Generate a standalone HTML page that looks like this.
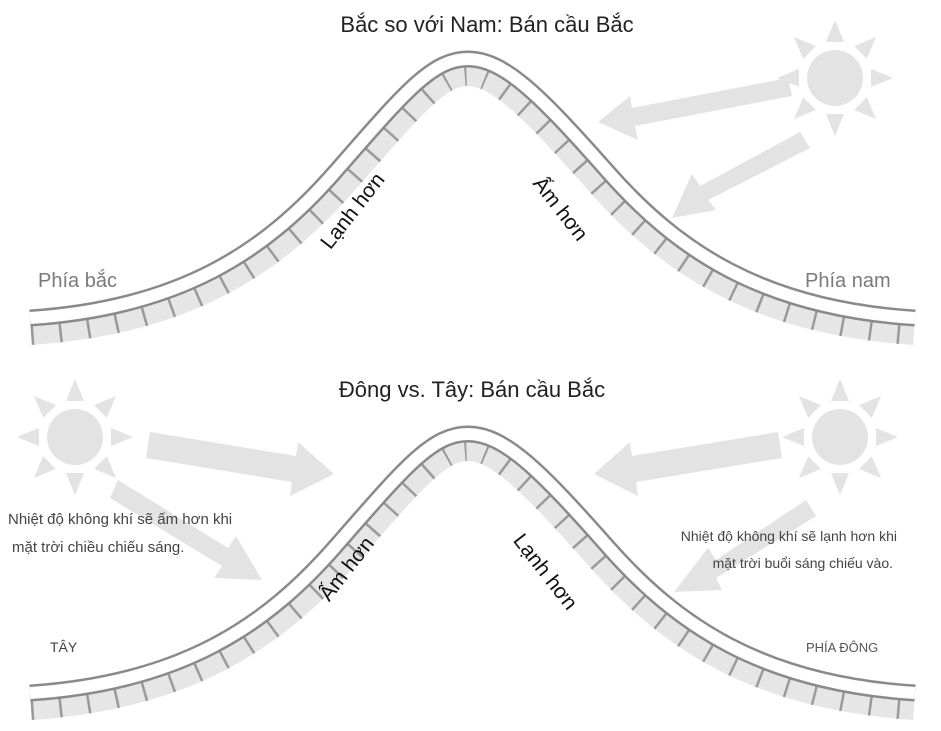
<!DOCTYPE html>
<html><head><meta charset="utf-8"><style>
body{margin:0;background:#fff;}
svg{display:block;}
text{font-family:"Liberation Sans","Noto Sans CJK SC",sans-serif;}
</style></head><body>
<svg width="941" height="731" viewBox="0 0 941 731" xmlns="http://www.w3.org/2000/svg">
<defs>
<path id="m" d="M30,318 C180,308 265,252 335,172 S432,59 468,59 S540,95 608,172 S760,308 915,318"/>
<path id="cover" d="M30,318 C180,308 265,252 335,172 S432,59 468,59 S540,95 608,172 S760,308 915,318 L960,318 L960,0 L0,0 L0,318 Z"/>
<g id="sun" fill="#e3e3e3">
  <circle r="28"/>
  <g id="ray"><polygon points="-9,-36 9,-36 0,-58"/></g>
  <use href="#ray" transform="rotate(45)"/><use href="#ray" transform="rotate(90)"/>
  <use href="#ray" transform="rotate(135)"/><use href="#ray" transform="rotate(180)"/>
  <use href="#ray" transform="rotate(225)"/><use href="#ray" transform="rotate(270)"/>
  <use href="#ray" transform="rotate(315)"/>
</g>
</defs>

<!-- top diagram -->
<use href="#m" fill="none" stroke="#e6e6e6" stroke-width="54"/>
<use href="#m" fill="none" stroke="#9a9a9a" stroke-width="54" stroke-dasharray="2.5 25"/>
<use href="#cover" fill="#fff"/>
<use href="#m" fill="none" stroke="#8a8a8a" stroke-width="17"/>
<use href="#m" fill="none" stroke="#fff" stroke-width="12"/>

<!-- bottom diagram -->
<g transform="translate(0,375)">
  <use href="#m" fill="none" stroke="#e6e6e6" stroke-width="54"/>
  <use href="#m" fill="none" stroke="#9a9a9a" stroke-width="54" stroke-dasharray="2.5 25"/>
  <path d="M30,318 C180,308 265,252 335,172 S432,59 468,59 S540,95 608,172 S760,308 915,318 L960,318 L960,-20 L0,-20 L0,318 Z" fill="#fff"/>
  <use href="#m" fill="none" stroke="#8a8a8a" stroke-width="17"/>
  <use href="#m" fill="none" stroke="#fff" stroke-width="12"/>
</g>

<use href="#sun" x="835" y="78"/>
<use href="#sun" x="75" y="437"/>
<use href="#sun" x="840" y="437"/>
<g fill="#e3e3e3">
<polygon points="788,78 632,108 630,96 598,122 638,140 635,126 792,96"/>
<polygon points="800,132 700,186 692,174 672,218 716,210 708,200 810,148"/>
<polygon points="150,432 296,456 298,442 334,474 290,496 292,482 146,458"/>
<polygon points="118,480 228,548 236,536 262,580 214,578 222,566 110,498"/>
<polygon points="778,432 632,456 630,442 594,474 638,496 636,482 782,458"/>
<polygon points="806,500 716,560 708,548 674,592 722,590 716,578 816,516"/>
</g>
<text x="487" y="32" text-anchor="middle" font-size="22" fill="#222">Bắc so với Nam: Bán cầu Bắc</text>
<text x="38" y="287" font-size="20" fill="#7a7a7a">Phía bắc</text>
<text x="805" y="287" font-size="20" fill="#7a7a7a">Phía nam</text>
<text transform="translate(358,215) rotate(-52)" text-anchor="middle" font-size="21" fill="#111">Lạnh hơn</text>
<text transform="translate(555,213) rotate(52)" text-anchor="middle" font-size="21" fill="#111">Ấm hơn</text>

<text x="472" y="397" text-anchor="middle" font-size="22" fill="#222">Đông vs. Tây: Bán cầu Bắc</text>
<text x="8" y="524" font-size="15" fill="#444">Nhiệt độ không khí sẽ ấm hơn khi</text>
<text x="12" y="552" font-size="15" fill="#444">mặt trời chiều chiếu sáng.</text>
<text x="897" y="541" text-anchor="end" font-size="14" fill="#444">Nhiệt độ không khí sẽ lạnh hơn khi</text>
<text x="893" y="568" text-anchor="end" font-size="14" fill="#444">mặt trời buổi sáng chiếu vào.</text>
<text x="50" y="652" font-size="14" fill="#444">TÂY</text>
<text x="806" y="652" font-size="13" fill="#555">PHÍA ĐÔNG</text>
<text transform="translate(352,573) rotate(-52)" text-anchor="middle" font-size="21" fill="#111">Ấm hơn</text>
<text transform="translate(540,576) rotate(52)" text-anchor="middle" font-size="21" fill="#111">Lạnh hơn</text>
</svg>
</body></html>
